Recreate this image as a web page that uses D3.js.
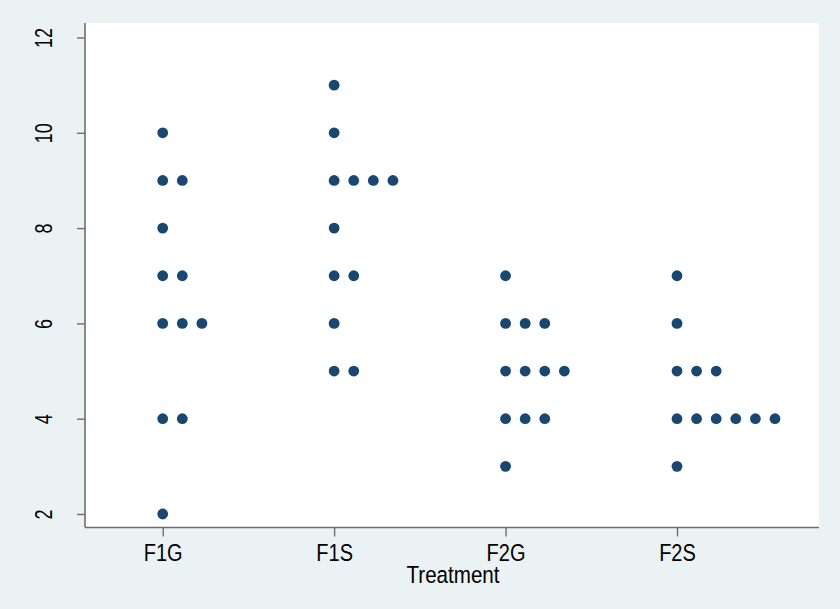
<!DOCTYPE html>
<html>
<head>
<meta charset="utf-8">
<script src="https://cdn.jsdelivr.net/npm/d3@7"></script>
<style>
  html, body { margin: 0; padding: 0; background: #eaf2f3; }
  svg { display: block; }
  text { font-family: "Liberation Sans", Arial, sans-serif; fill: #000; }
</style>
</head>
<body>
<svg id="chart" width="840" height="609"></svg>
<script>
// Data
const categories = ["F1G", "F1S", "F2G", "F2S"];
const valuesF1G = [10, 9, 9, 8, 7, 7, 6, 6, 6, 4, 4, 2];
const valuesF1S = [11, 10, 9, 9, 9, 9, 8, 7, 7, 6, 5, 5];
const valuesF2G = [7, 6, 6, 6, 5, 5, 5, 5, 4, 4, 4, 3];
const valuesF2S = [7, 6, 5, 5, 5, 4, 4, 4, 4, 4, 4, 3];
const seriesValues = [valuesF1G, valuesF1S, valuesF2G, valuesF2S];
const yTicks = [2, 4, 6, 8, 10, 12];
const xTitle = "Treatment";

// Layout
const W = 840, H = 609;
const plot = { left: 85, right: 819, top: 23, bottom: 527.5 };
const dotGap = 19.6, dotR = 5.4;
const dotColor = "#1a476f", axisColor = "#6e6e6e";

const svg = d3.select("#chart");
svg.append("rect").attr("width", W).attr("height", H).attr("fill", "#eaf2f3");
svg.append("rect")
  .attr("x", plot.left).attr("y", plot.top)
  .attr("width", plot.right - plot.left).attr("height", plot.bottom - plot.top)
  .attr("fill", "#ffffff");

const x = d3.scaleLinear().domain([0, categories.length - 1]).range([162.7, 677]);
const y = d3.scaleLinear().domain([2, 12]).range([514, 37.5]);

// Y axis
const yAxis = d3.axisLeft(y).tickValues(yTicks).tickSize(8).tickPadding(0).tickFormat(d3.format("d"));
const gy = svg.append("g").attr("transform", `translate(${plot.left},0)`).call(yAxis);
gy.select(".domain").remove();
gy.append("line").attr("x1", 0).attr("x2", 0).attr("y1", plot.top).attr("y2", plot.bottom)
  .attr("stroke", axisColor).attr("stroke-width", 1.6);
gy.selectAll(".tick line").attr("stroke", axisColor).attr("stroke-width", 1.4);
gy.selectAll(".tick text")
  .attr("font-size", 18)
  .attr("text-anchor", "middle")
  .attr("x", null).attr("dy", null)
  .attr("transform", "translate(-32.7,0) rotate(-90) scale(1,1.32)");

// X axis
const xAxis = d3.axisBottom(x).tickValues(d3.range(categories.length)).tickSize(9).tickPadding(6)
  .tickFormat(i => categories[i]);
const gx = svg.append("g").attr("transform", `translate(0,${plot.bottom})`).call(xAxis);
gx.select(".domain").remove();
gx.append("line").attr("x1", plot.left).attr("x2", plot.right).attr("y1", 0).attr("y2", 0)
  .attr("stroke", axisColor).attr("stroke-width", 1.6);
gx.selectAll(".tick line").attr("stroke", axisColor).attr("stroke-width", 1.4);
gx.selectAll(".tick text")
  .attr("font-size", 20)
  .attr("y", null).attr("dy", null)
  .attr("transform", "translate(0,33.2) scale(1,1.15)");

svg.append("text")
  .attr("text-anchor", "middle").attr("font-size", 20.6)
  .attr("transform", "translate(453,583.3) scale(1,1.17)")
  .text(xTitle);

// Dots
const points = [];
seriesValues.forEach((vals, ci) => {
  const counts = {};
  vals.forEach(v => {
    const k = counts[v] || 0;
    counts[v] = k + 1;
    points.push({ ci, v, k });
  });
});
svg.append("g").selectAll("circle").data(points).join("circle")
  .attr("cx", d => x(d.ci) + d.k * dotGap)
  .attr("cy", d => y(d.v))
  .attr("r", dotR)
  .attr("fill", dotColor);
</script>
</body>
</html>
